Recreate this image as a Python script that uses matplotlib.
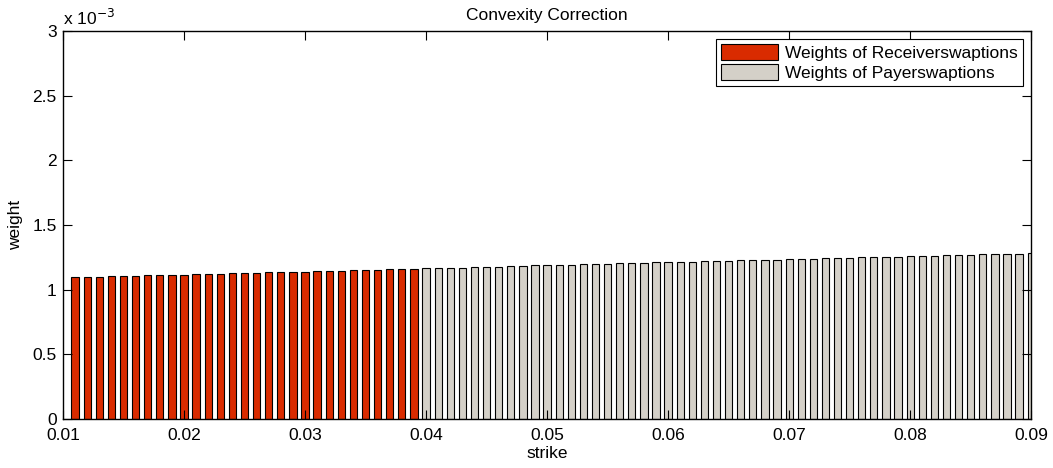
import numpy as np
import matplotlib
matplotlib.use("Agg")
import matplotlib.pyplot as plt
from matplotlib.ticker import FuncFormatter, MultipleLocator

plt.rcParams['font.family'] = ['Liberation Sans', 'DejaVu Sans']

# strikes in units of 0.001
rec_strike_bp = [11, 12, 13, 14, 15, 16, 17, 18, 19, 20,
                 21, 22, 23, 24, 25, 26, 27, 28, 29, 30,
                 31, 32, 33, 34, 35, 36, 37, 38, 39]
pay_strike_bp = [40, 41, 42, 43, 44, 45, 46, 47, 48, 49,
                 50, 51, 52, 53, 54, 55, 56, 57, 58, 59,
                 60, 61, 62, 63, 64, 65, 66, 67, 68, 69,
                 70, 71, 72, 73, 74, 75, 76, 77, 78, 79,
                 80, 81, 82, 83, 84, 85, 86, 87, 88, 89, 90]

# weights (x 1e-3)
rec_weight = [1.096, 1.098, 1.101, 1.103, 1.105, 1.108, 1.110, 1.112, 1.115, 1.117,
              1.119, 1.122, 1.124, 1.126, 1.128, 1.131, 1.133, 1.135, 1.138, 1.140,
              1.142, 1.145, 1.147, 1.149, 1.152, 1.154, 1.156, 1.159, 1.162]
pay_weight = [1.164, 1.166, 1.168, 1.171, 1.173, 1.176, 1.178, 1.181, 1.184, 1.187,
              1.190, 1.192, 1.194, 1.196, 1.198, 1.200, 1.203, 1.205, 1.207, 1.210,
              1.212, 1.214, 1.217, 1.219, 1.221, 1.224, 1.226, 1.228, 1.231, 1.233,
              1.235, 1.238, 1.240, 1.242, 1.244, 1.247, 1.249, 1.251, 1.254, 1.256,
              1.258, 1.261, 1.263, 1.265, 1.268, 1.270, 1.272, 1.274, 1.276, 1.278,
              1.280]

rec_x = np.array(rec_strike_bp) * 1e-3
pay_x = np.array(pay_strike_bp) * 1e-3
rec_y = np.array(rec_weight) * 1e-3
pay_y = np.array(pay_weight) * 1e-3

FS = 12.5

fig = plt.figure(figsize=(10.53, 4.68), dpi=100)
ax = fig.add_axes([0.0598, 0.1047, 0.9195, 0.8291])

bw = 0.0006
ax.bar(rec_x, rec_y, width=bw, color='#d92b00', edgecolor='black', linewidth=0.8,
       label='Weights of Receiverswaptions')
ax.bar(pay_x, pay_y, width=bw, color='#d4d0c8', edgecolor='black', linewidth=0.8,
       label='Weights of Payerswaptions')

ax.set_xlim(0.01, 0.09)
ax.set_ylim(0, 3e-3)
ax.xaxis.set_major_locator(MultipleLocator(0.01))
ax.yaxis.set_major_locator(MultipleLocator(0.5e-3))
ax.xaxis.set_major_formatter(FuncFormatter(lambda v, p: f'{v:.2f}'))
ax.yaxis.set_major_formatter(FuncFormatter(lambda v, p: f'{v * 1e3:g}'))
ax.tick_params(direction='in', length=6.5, width=0.8, labelsize=FS,
               top=True, right=True)
ax.tick_params(axis='x', pad=6.5)
ax.tick_params(axis='y', pad=4.5)
for s in ax.spines.values():
    s.set_linewidth(1.0)

ax.text(0.0, 1.008, r'x 10$^{-3}$', transform=ax.transAxes, fontsize=FS,
        ha='left', va='bottom')
ax.set_title('Convexity Correction', fontsize=FS, pad=8)
ax.set_xlabel('strike', fontsize=FS, labelpad=2)
ax.set_ylabel('weight', fontsize=FS, labelpad=7)

leg = ax.legend(loc='upper right', fontsize=FS, fancybox=False, framealpha=1,
                edgecolor='black', borderaxespad=0.45, handlelength=3.3,
                handleheight=1.0, borderpad=0.3, labelspacing=0.2,
                handletextpad=0.4)
leg.get_frame().set_linewidth(0.8)

fig.savefig('out.png', dpi=100)
